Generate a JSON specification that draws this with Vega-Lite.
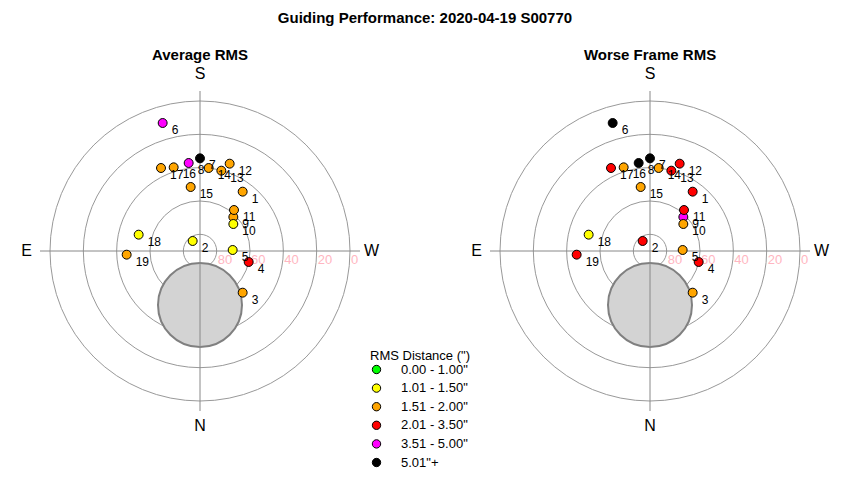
{
  "$schema": "https://vega.github.io/schema/vega-lite/v6.json",
  "background": "white",
  "padding": {"left": 20, "top": 11, "right": 5, "bottom": 5},
  "title": {"text": "Guiding Performance: 2020-04-19 S00770", "fontSize": 15, "font": "Liberation Sans", "fontWeight": "bold", "anchor": "middle", "color": "#000", "offset": 22},
  "config": {"view": {"stroke": null}, "font": "Liberation Sans", "title": {"font": "Liberation Sans", "fontSize": 15, "fontWeight": "bold", "color": "#000"}},
  "datasets": {
    "rings": [
      {"alt": "80", "zd": 10},
      {"alt": "60", "zd": 30},
      {"alt": "40", "zd": 50},
      {"alt": "20", "zd": 70},
      {"alt": "0", "zd": 90}
    ],
    "disk": [{"x": 0, "y": -32.4, "zd": 25.2}],
    "axes": [
      {"x": -96, "y": 0, "x2": 96, "y2": 0},
      {"x": 0, "y": -96, "x2": 0, "y2": 96}
    ],
    "dirs": [
      {"d": "S", "x": 0, "y": 106},
      {"d": "N", "x": 0, "y": -105},
      {"d": "E", "x": -104, "y": 0},
      {"d": "W", "x": 103, "y": 0}
    ],
    "points": [
      {"id": "1", "x": 25.6, "y": 35.6, "avg": "1.51 - 2.00\"", "worst": "2.01 - 3.50\""},
      {"id": "2", "x": -4.4, "y": 6.0, "avg": "1.01 - 1.50\"", "worst": "2.01 - 3.50\""},
      {"id": "3", "x": 25.6, "y": -25.0, "avg": "1.51 - 2.00\"", "worst": "1.51 - 2.00\""},
      {"id": "4", "x": 29.2, "y": -6.6, "avg": "2.01 - 3.50\"", "worst": "2.01 - 3.50\""},
      {"id": "5", "x": 19.6, "y": 0.6, "avg": "1.01 - 1.50\"", "worst": "1.51 - 2.00\""},
      {"id": "6", "x": -22.4, "y": 76.8, "avg": "3.51 - 5.00\"", "worst": "5.01\"+"},
      {"id": "7", "x": 0.0, "y": 55.6, "avg": "5.01\"+", "worst": "5.01\"+"},
      {"id": "8", "x": -6.8, "y": 52.8, "avg": "3.51 - 5.00\"", "worst": "5.01\"+"},
      {"id": "9", "x": 20.0, "y": 20.4, "avg": "1.51 - 2.00\"", "worst": "3.51 - 5.00\""},
      {"id": "10", "x": 20.0, "y": 16.2, "avg": "1.01 - 1.50\"", "worst": "1.51 - 2.00\""},
      {"id": "11", "x": 20.4, "y": 24.6, "avg": "1.51 - 2.00\"", "worst": "2.01 - 3.50\""},
      {"id": "12", "x": 17.8, "y": 52.4, "avg": "1.51 - 2.00\"", "worst": "2.01 - 3.50\""},
      {"id": "13", "x": 12.8, "y": 48.2, "avg": "1.51 - 2.00\"", "worst": "2.01 - 3.50\""},
      {"id": "14", "x": 5.2, "y": 49.8, "avg": "1.51 - 2.00\"", "worst": "1.51 - 2.00\""},
      {"id": "15", "x": -5.6, "y": 38.4, "avg": "1.51 - 2.00\"", "worst": "1.51 - 2.00\""},
      {"id": "16", "x": -15.8, "y": 50.2, "avg": "1.51 - 2.00\"", "worst": "1.51 - 2.00\""},
      {"id": "17", "x": -23.4, "y": 49.8, "avg": "1.51 - 2.00\"", "worst": "2.01 - 3.50\""},
      {"id": "18", "x": -36.8, "y": 9.8, "avg": "1.01 - 1.50\"", "worst": "1.01 - 1.50\""},
      {"id": "19", "x": -44.0, "y": -2.2, "avg": "1.51 - 2.00\"", "worst": "2.01 - 3.50\""}
    ]
  },
  "spacing": 90,
  "hconcat": [
    {
      "title": {"text": "Average RMS", "offset": 3},
      "width": 360,
      "height": 360,
      "layer": [
        {"data": {"name": "rings"}, "mark": {"type": "point", "shape": "circle", "filled": false, "stroke": "#999999", "strokeWidth": 1, "opacity": 1},
         "encoding": {"x": {"datum": 0, "type": "quantitative", "scale": {"domain": [-108, 108], "nice": false, "zero": false}, "axis": null},
                      "y": {"datum": 0, "type": "quantitative", "scale": {"domain": [-108, 108], "nice": false, "zero": false}, "axis": null},
                      "size": {"field": "zd", "type": "quantitative", "scale": {"type": "pow", "exponent": 2, "domain": [0, 90], "range": [0, 90000], "zero": true, "nice": false}, "legend": null}}},
        {"data": {"name": "disk"}, "mark": {"type": "point", "shape": "circle", "filled": true, "fill": "#d3d3d3", "stroke": "#808080", "strokeWidth": 2, "opacity": 1, "fillOpacity": 1},
         "encoding": {"x": {"field": "x", "type": "quantitative"}, "y": {"field": "y", "type": "quantitative"},
                      "size": {"field": "zd", "type": "quantitative", "legend": null}}},
        {"data": {"name": "axes"}, "mark": {"type": "rule", "stroke": "#888888", "strokeWidth": 1},
         "encoding": {"x": {"field": "x", "type": "quantitative"}, "y": {"field": "y", "type": "quantitative"}, "x2": {"field": "x2"}, "y2": {"field": "y2"}}},
        {"data": {"name": "rings"}, "mark": {"type": "text", "align": "left", "baseline": "middle", "dy": 9, "dx": 1, "fontSize": 13, "color": "#FFB6C1"},
         "encoding": {"x": {"field": "zd", "type": "quantitative"}, "y": {"datum": 0, "type": "quantitative"}, "text": {"field": "alt"}}},
        {"data": {"name": "dirs"}, "mark": {"type": "text", "align": "center", "baseline": "middle", "fontSize": 16, "color": "#000"},
         "encoding": {"x": {"field": "x", "type": "quantitative"}, "y": {"field": "y", "type": "quantitative"}, "text": {"field": "d"}}},
        {"data": {"name": "points"}, "mark": {"type": "point", "shape": "circle", "filled": true, "stroke": "#000", "strokeWidth": 1, "size": 80, "opacity": 1},
         "encoding": {"x": {"field": "x", "type": "quantitative"}, "y": {"field": "y", "type": "quantitative"},
                      "color": {"field": "avg", "type": "nominal", "title": "RMS Distance (\")",
                                "scale": {"domain": ["0.00 - 1.00\"", "1.01 - 1.50\"", "1.51 - 2.00\"", "2.01 - 3.50\"", "3.51 - 5.00\"", "5.01\"+"], "range": ["#00ff00", "#ffff00", "#ffa500", "#ff0000", "#ff00ff", "#000000"]},
                                "legend": {"orient": "none", "legendX": 350, "legendY": 279, "symbolType": "circle", "symbolSize": 70, "symbolStrokeColor": "#000", "symbolStrokeWidth": 1, "symbolOpacity": 1, "labelFontSize": 13, "titleFontSize": 13, "titleFontWeight": "normal", "titleColor": "#000", "labelColor": "#000", "rowPadding": 4.6, "labelOffset": 18, "titlePadding": 0, "titleFont": "Liberation Sans", "labelFont": "Liberation Sans"}}}},
        {"data": {"name": "points"}, "mark": {"type": "text", "align": "left", "baseline": "middle", "dx": 9, "dy": 7, "fontSize": 12, "color": "#000"},
         "encoding": {"x": {"field": "x", "type": "quantitative"}, "y": {"field": "y", "type": "quantitative"}, "text": {"field": "id"}}}
      ]
    },
    {
      "title": {"text": "Worse Frame RMS", "offset": 3},
      "width": 360,
      "height": 360,
      "layer": [
        {"data": {"name": "rings"}, "mark": {"type": "point", "shape": "circle", "filled": false, "stroke": "#999999", "strokeWidth": 1, "opacity": 1},
         "encoding": {"x": {"datum": 0, "type": "quantitative", "scale": {"domain": [-108, 108], "nice": false, "zero": false}, "axis": null},
                      "y": {"datum": 0, "type": "quantitative", "scale": {"domain": [-108, 108], "nice": false, "zero": false}, "axis": null},
                      "size": {"field": "zd", "type": "quantitative", "scale": {"type": "pow", "exponent": 2, "domain": [0, 90], "range": [0, 90000], "zero": true, "nice": false}, "legend": null}}},
        {"data": {"name": "disk"}, "mark": {"type": "point", "shape": "circle", "filled": true, "fill": "#d3d3d3", "stroke": "#808080", "strokeWidth": 2, "opacity": 1, "fillOpacity": 1},
         "encoding": {"x": {"field": "x", "type": "quantitative"}, "y": {"field": "y", "type": "quantitative"},
                      "size": {"field": "zd", "type": "quantitative", "legend": null}}},
        {"data": {"name": "axes"}, "mark": {"type": "rule", "stroke": "#888888", "strokeWidth": 1},
         "encoding": {"x": {"field": "x", "type": "quantitative"}, "y": {"field": "y", "type": "quantitative"}, "x2": {"field": "x2"}, "y2": {"field": "y2"}}},
        {"data": {"name": "rings"}, "mark": {"type": "text", "align": "left", "baseline": "middle", "dy": 9, "dx": 1, "fontSize": 13, "color": "#FFB6C1"},
         "encoding": {"x": {"field": "zd", "type": "quantitative"}, "y": {"datum": 0, "type": "quantitative"}, "text": {"field": "alt"}}},
        {"data": {"name": "dirs"}, "mark": {"type": "text", "align": "center", "baseline": "middle", "fontSize": 16, "color": "#000"},
         "encoding": {"x": {"field": "x", "type": "quantitative"}, "y": {"field": "y", "type": "quantitative"}, "text": {"field": "d"}}},
        {"data": {"name": "points"}, "mark": {"type": "point", "shape": "circle", "filled": true, "stroke": "#000", "strokeWidth": 1, "size": 80, "opacity": 1},
         "encoding": {"x": {"field": "x", "type": "quantitative"}, "y": {"field": "y", "type": "quantitative"},
                      "color": {"field": "worst", "type": "nominal", "title": "RMS Distance (\")",
                                "scale": {"domain": ["0.00 - 1.00\"", "1.01 - 1.50\"", "1.51 - 2.00\"", "2.01 - 3.50\"", "3.51 - 5.00\"", "5.01\"+"], "range": ["#00ff00", "#ffff00", "#ffa500", "#ff0000", "#ff00ff", "#000000"]}}}},
        {"data": {"name": "points"}, "mark": {"type": "text", "align": "left", "baseline": "middle", "dx": 9, "dy": 7, "fontSize": 12, "color": "#000"},
         "encoding": {"x": {"field": "x", "type": "quantitative"}, "y": {"field": "y", "type": "quantitative"}, "text": {"field": "id"}}}
      ]
    }
  ]
}
